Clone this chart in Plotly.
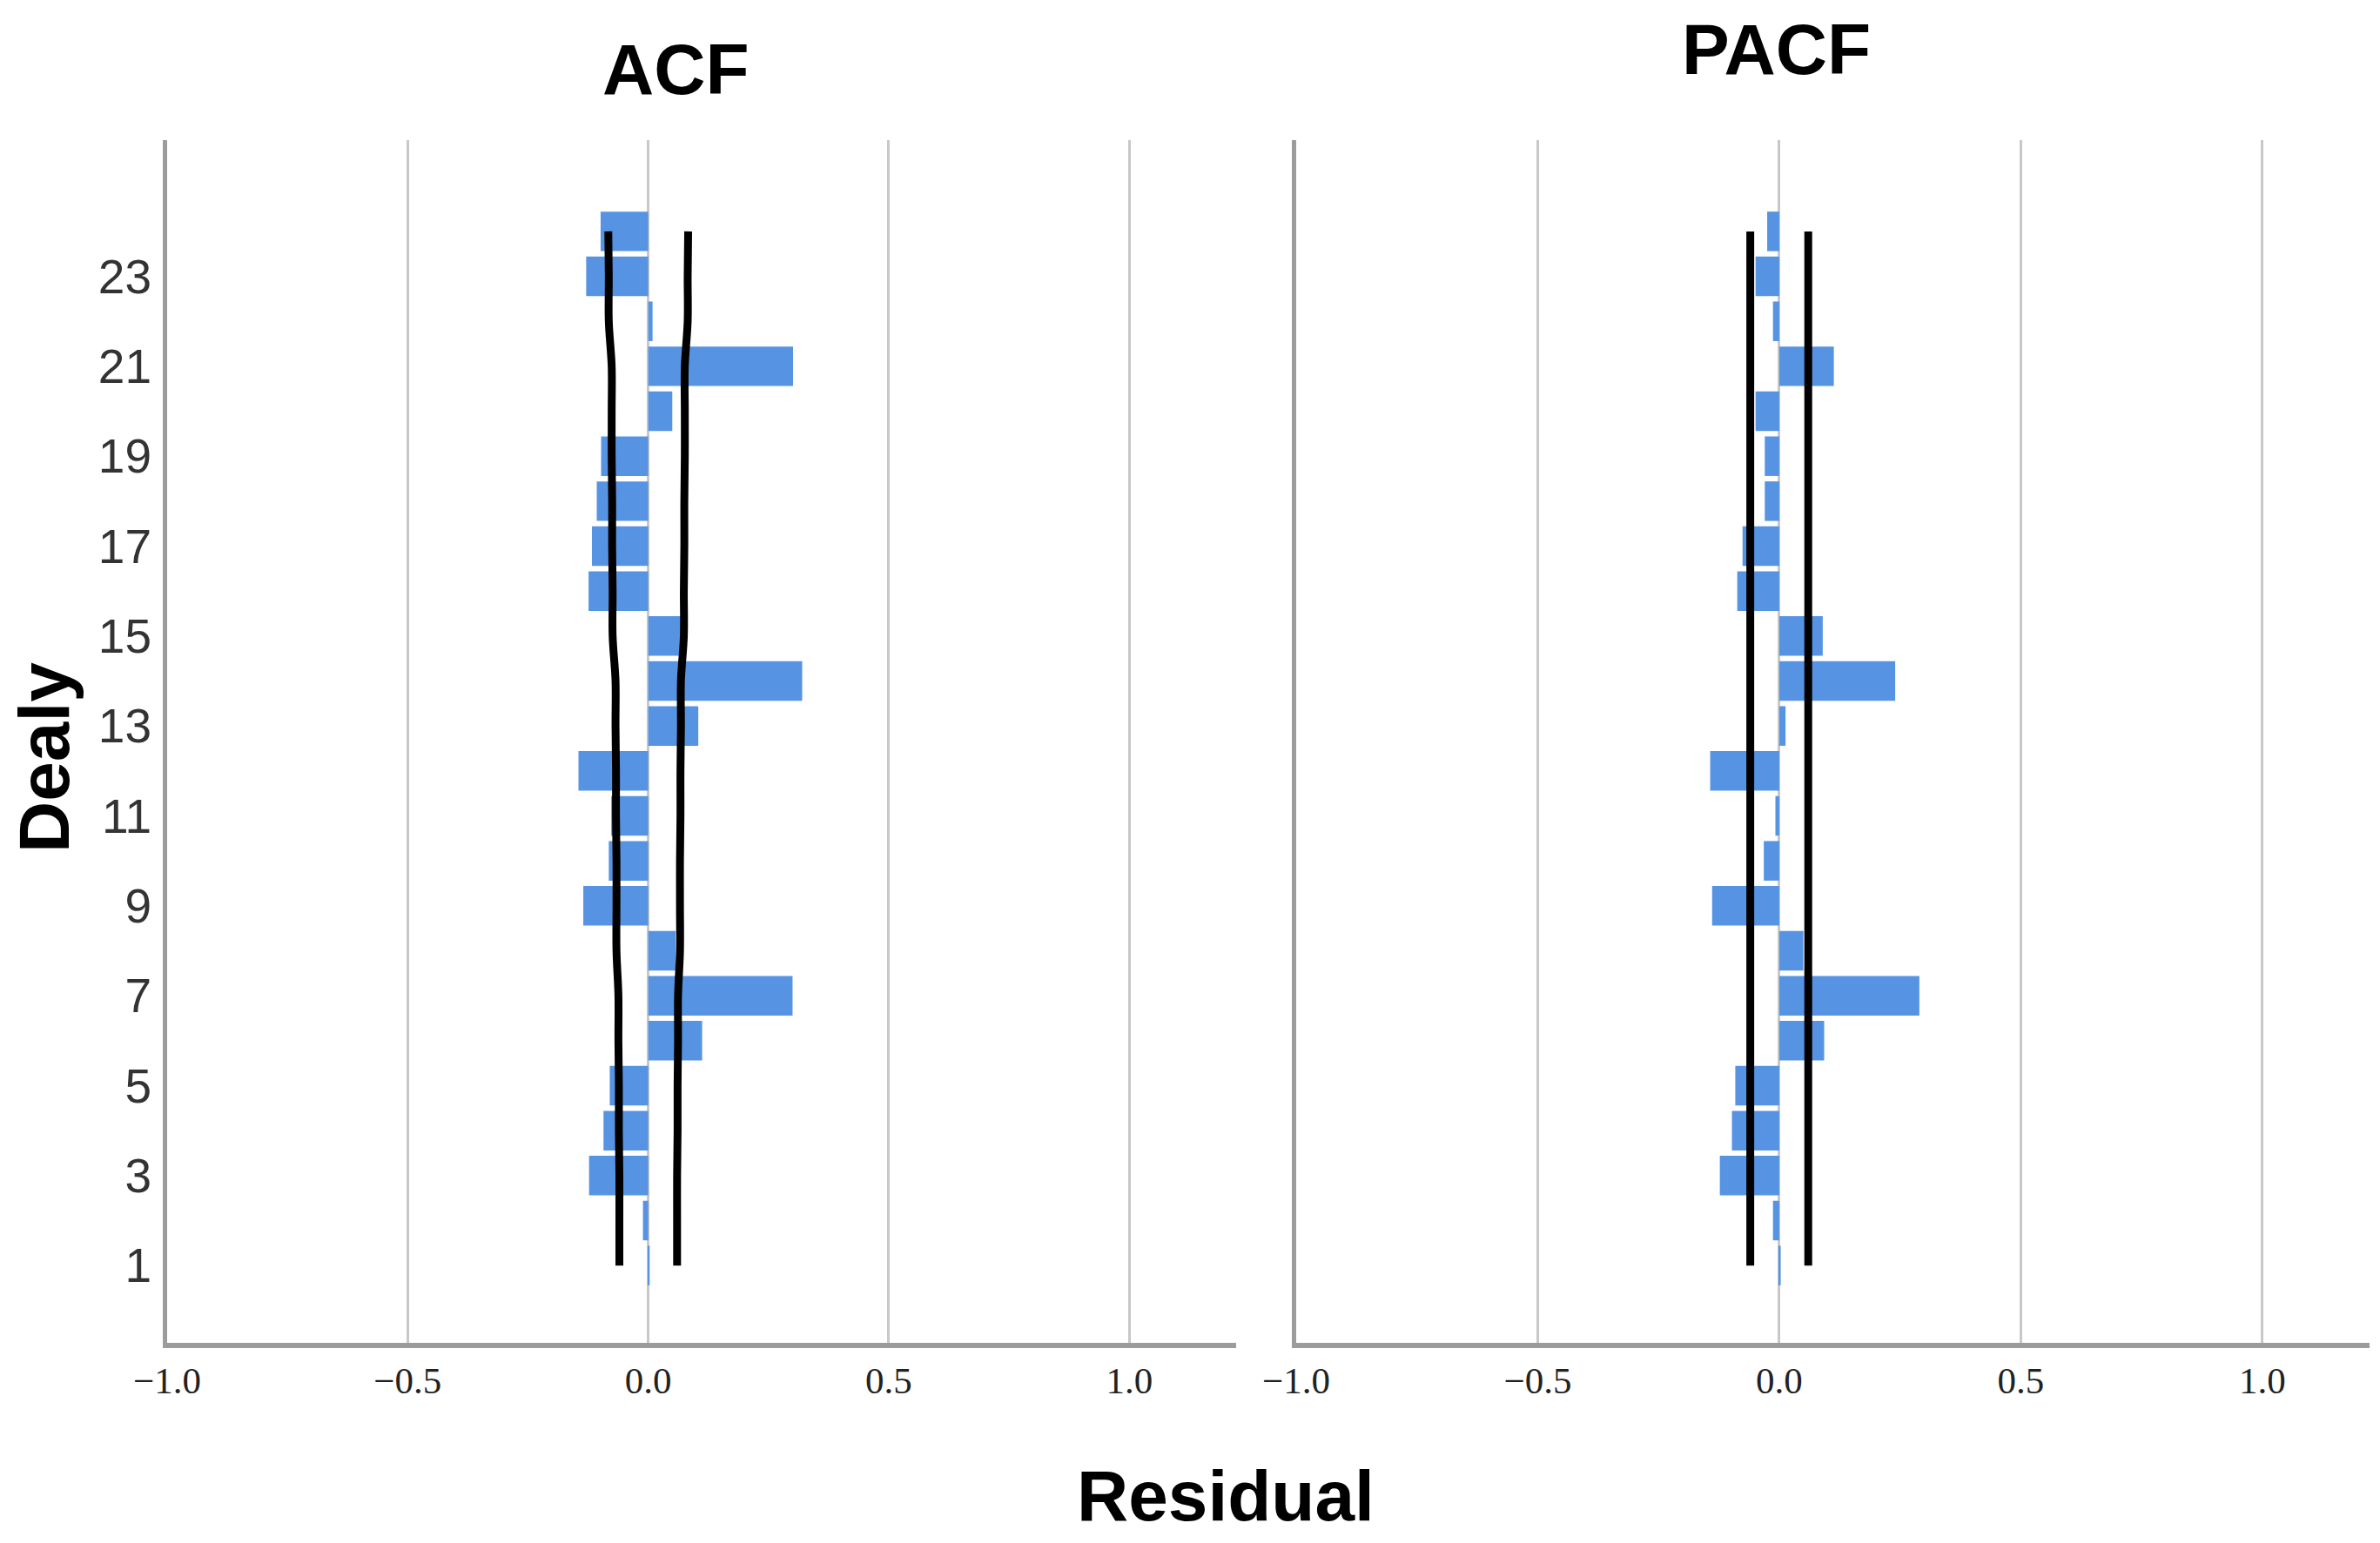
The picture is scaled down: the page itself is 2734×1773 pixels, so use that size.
import plotly.graph_objects as go

lags = list(range(1, 25))
acf = [0.003, -0.011, -0.123, -0.093, -0.080, 0.112, 0.300, 0.057, -0.135, -0.082,
       -0.077, -0.145, 0.104, 0.320, 0.071, -0.124, -0.117, -0.107, -0.098, 0.050,
       0.301, 0.009, -0.129, -0.099]
acf_ucl = [0.060, 0.060, 0.060, 0.061, 0.061, 0.062, 0.062, 0.066, 0.066, 0.066,
           0.067, 0.067, 0.068, 0.068, 0.074, 0.074, 0.075, 0.075, 0.076, 0.076,
           0.076, 0.082, 0.082, 0.083]
pacf = [0.003, -0.013, -0.123, -0.098, -0.091, 0.093, 0.290, 0.050, -0.139, -0.032,
        -0.008, -0.143, 0.013, 0.240, 0.090, -0.087, -0.076, -0.030, -0.030, -0.049,
        0.113, -0.013, -0.049, -0.025]
pacf_ucl = [0.060] * 24

x_ticks = [-1.0, -0.5, 0.0, 0.5, 1.0]
x_ticktext = ["\u22121.0", "\u22120.5", "0.0", "0.5", "1.0"]
y_ticks = list(range(1, 24, 2))

BAR = "#5694E3"
W, H = 2734, 1773

fig = go.Figure()

panels = [("x", "y", acf, acf_ucl), ("x2", "y2", pacf, pacf_ucl)]
for xa, ya, vals, ucl in panels:
    fig.add_trace(go.Bar(x=vals, y=lags, orientation="h", width=0.88,
                         marker=dict(color=BAR, line=dict(width=0)),
                         xaxis=xa, yaxis=ya, showlegend=False))
    fig.add_trace(go.Scatter(x=[-u for u in ucl], y=lags, mode="lines",
                             line=dict(color="black", width=9, shape="spline"),
                             xaxis=xa, yaxis=ya, showlegend=False))
    fig.add_trace(go.Scatter(x=ucl, y=lags, mode="lines",
                             line=dict(color="black", width=9, shape="spline"),
                             xaxis=xa, yaxis=ya, showlegend=False))

xcommon = dict(range=[-1.0, 1.222], tickvals=x_ticks, ticktext=x_ticktext,
               showgrid=True, gridcolor="#c8c8c8", gridwidth=3, zeroline=False,
               showline=True, linecolor="#9c9c9c", linewidth=6, ticks="",
               ticklabelstandoff=0, automargin=False,
               tickfont=dict(family="Liberation Serif", size=43, color="#222222"))
ycommon = dict(range=[-0.72, 26.03], tickvals=y_ticks, showgrid=False, zeroline=False,
               showline=True, linecolor="#9c9c9c", linewidth=5, ticks="",
               ticklabelstandoff=2, automargin=False,
               tickfont=dict(family="Liberation Sans Narrow, Arial Narrow, Liberation Sans",
                             size=55, color="#333333"))

yd = [1 - 1543 / H, 1 - 161 / H]
fig.update_layout(
    width=W, height=H,
    margin=dict(l=0, r=0, t=0, b=0, autoexpand=False),
    paper_bgcolor="white", plot_bgcolor="white",
    barmode="overlay",
    xaxis=dict(domain=[192 / W, 1420 / W], anchor="y", **xcommon),
    yaxis=dict(domain=yd, anchor="x", **ycommon),
    xaxis2=dict(domain=[1489 / W, 2722 / W], anchor="y2", **xcommon),
    yaxis2=dict(domain=yd, anchor="x2", showticklabels=False,
                **{k: v for k, v in ycommon.items() if k != "tickfont"}),
)

title_font = dict(family="Liberation Sans", size=82, color="black")
fig.add_annotation(text="<b>ACF</b>", x=776 / W, y=1 - 80 / H, xref="paper", yref="paper",
                   xanchor="center", yanchor="middle", showarrow=False, font=title_font)
fig.add_annotation(text="<b>PACF</b>", x=2040 / W, y=1 - 57 / H, xref="paper", yref="paper",
                   xanchor="center", yanchor="middle", showarrow=False, font=title_font)
fig.add_annotation(text="<b>Residual</b>", x=1408 / W, y=1 - 1718 / H, xref="paper", yref="paper",
                   xanchor="center", yanchor="middle", showarrow=False, font=title_font)
fig.add_annotation(text="<b>Dealy</b>", x=50 / W, y=1 - 870 / H, xref="paper", yref="paper",
                   xanchor="center", yanchor="middle", showarrow=False, textangle=-90,
                   font=title_font)

fig.write_html("out.html", config={"displayModeBar": False},
               post_script="document.body.style.margin='0';")
